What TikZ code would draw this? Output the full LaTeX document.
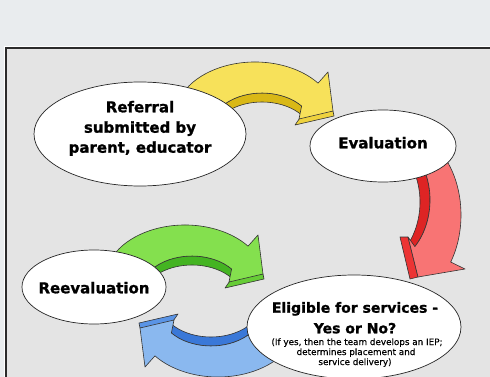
\documentclass[tikz,border=0pt]{standalone}
\usepackage{fontspec}
\setmainfont{DejaVu Sans}
\newfontfamily\heavyfont[BoldFeatures={FakeBold=1.2}]{DejaVu Sans}
\newfontfamily\notefont[FakeBold=0.4]{DejaVu Sans}
\usetikzlibrary{shapes.geometric}
\definecolor{bgout}{HTML}{E9ECEE}
\definecolor{bgin}{HTML}{E4E4E4}
\definecolor{frameclr}{HTML}{2B2B2B}
\definecolor{yTop}{HTML}{F7E15A}
\definecolor{ySide}{HTML}{D9B816}
\definecolor{yFront}{HTML}{EED23E}
\definecolor{gTop}{HTML}{84E04E}
\definecolor{gSide}{HTML}{44B422}
\definecolor{gFront}{HTML}{66CC36}
\definecolor{rTop}{HTML}{F87474}
\definecolor{rSide}{HTML}{DE2424}
\definecolor{rFront}{HTML}{EC3434}
\definecolor{bTop}{HTML}{8AB8EF}
\definecolor{bSide}{HTML}{3A78D8}
\definecolor{bFront}{HTML}{5A94E6}
\tikzset{
  face/.style={draw=black!80, line width=0.6pt, line join=round},
  bubble/.style={ellipse, draw=black!85, line width=0.7pt, fill=white, inner sep=0pt},
  bigtxt/.style={font=\heavyfont\bfseries\fontsize{15}{18}\selectfont, anchor=base, inner sep=0pt},
  midtxt/.style={font=\heavyfont\bfseries\fontsize{14}{17}\selectfont, anchor=base, inner sep=0pt},
  smalltxt/.style={font=\notefont\fontsize{8.8}{10}\selectfont, anchor=base, inner sep=0pt},
}
\newcommand\drawBentArrow[3]{%
  \filldraw[face, fill=#2] (262,128) ++(200:51 and 35)
    arc[start angle=200, end angle=321, x radius=51, y radius=35]
    -- ++(0,9)
    arc[start angle=321, end angle=200, x radius=51, y radius=35] -- cycle;
  \filldraw[face, fill=#3] (333,111) -- (334,116) -- (295,125) -- (302,115) -- cycle;
  \filldraw[face, fill=#1] (255,117) ++(200:80 and 55)
    arc[start angle=200, end angle=322, x radius=80, y radius=55]
    -- (328,72) -- (333,111) -- (299,119) -- (301.6,106.0)
    arc[start angle=321, end angle=200, x radius=51, y radius=35] -- cycle;
}
\begin{document}
\begin{tikzpicture}[x=1pt, y=-1pt]
\useasboundingbox (0,0) rectangle (490,377);
\fill[bgout] (0,0) rectangle (490,377);
\draw[white, line width=0.8pt] (4,46) -- (495,46);
\draw[white, line width=0.8pt] (4,46) -- (4,380);
\filldraw[draw=frameclr, fill=bgin, line width=2pt] (6,48) rectangle (496,384);

% yellow arrow
\drawBentArrow{yTop}{ySide}{yFront}
% green arrow
\begin{scope}[shift={(-70,163)}]
  \drawBentArrow{gTop}{gSide}{gFront}
\end{scope}
% blue arrow
\begin{scope}[rotate around={180:(236.5,219.5)}]
  \drawBentArrow{bTop}{bSide}{bFront}
\end{scope}
% red arrow
\filldraw[face, fill=rSide] (380,200) ++(-50:50 and 65)
  arc[start angle=-50, end angle=45.8, x radius=50, y radius=65]
  -- ++(-10,2)
  arc[start angle=45.8, end angle=-50, x radius=50, y radius=65] -- cycle;
\filldraw[face, fill=rFront] (408,237) -- (400,237) -- (410,279) -- (418,277) -- cycle;
\filldraw[face, fill=rTop] (404,215) ++(-62:57 and 82)
  arc[start angle=-62, end angle=35, x radius=57, y radius=82]
  -- (465,269) -- (418,277) -- (408,237) -- (414.9,246.6)
  arc[start angle=45.8, end angle=-50, x radius=50, y radius=65] -- cycle;

% bubbles
\node[bubble, minimum width=212pt, minimum height=104pt] (refE) at (140,134) {};
\node[bubble, minimum width=146pt, minimum height=72pt] (evaE) at (383,146) {};
\node[bubble, minimum width=144pt, minimum height=74pt] (reeE) at (94,287) {};
\node[bubble, minimum width=214pt, minimum height=104pt] (eliE) at (354,327) {};

% texts
\node[bigtxt] (t1) at (140,112.3) {Referral};
\node[bigtxt] (t2) at (140,132.7) {submitted by};
\node[bigtxt] (t3) at (140,152.7) {parent, educator};
\node[bigtxt] (t4) at (383,148.3) {Evaluation};
\node[bigtxt] (t5) at (94,293.3) {Reevaluation};
\node[midtxt] (t6) at (355,312.7) {Eligible for services -};
\node[midtxt] (t7) at (355,333.3) {Yes or No?};
\node[smalltxt] (t8) at (357,345) {(If yes, then the team develops an IEP;};
\node[smalltxt] (t9) at (356,355) {determines placement and};
\node[smalltxt] (t10) at (355,365) {service delivery)};
\end{tikzpicture}
\end{document}
